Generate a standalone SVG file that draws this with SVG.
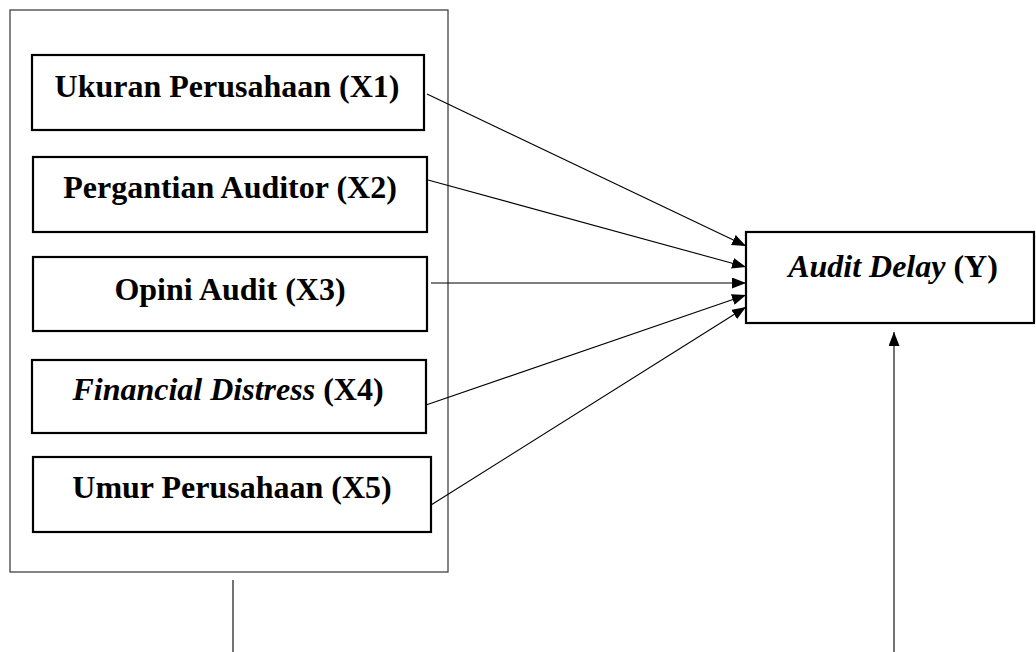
<svg xmlns="http://www.w3.org/2000/svg" width="1036" height="652" viewBox="0 0 1036 652">
<style>
.box{fill:#fff;stroke:#000;stroke-width:2.2}
.outer{fill:none;stroke:#333;stroke-width:1.2}
.lbl{font-family:"Liberation Serif","Times New Roman",serif;font-size:32px;font-weight:bold;text-anchor:middle;fill:#000}
.it{font-style:italic}
.conn{stroke:#000;stroke-width:1.1;fill:none}
</style>
<defs>
<marker id="ah" viewBox="0 0 14 11" refX="14" refY="5.5" markerWidth="14" markerHeight="11" markerUnits="userSpaceOnUse" orient="auto">
<path d="M0,0 L14,5.5 L0,11 Z" fill="#000"/>
</marker>
</defs>
<rect id="group" class="outer" x="10" y="10" width="438" height="562"/>
<g id="x1"><rect class="box" x="32" y="55" width="392" height="75"/><text class="lbl" x="227" y="97">Ukuran Perusahaan (X1)</text></g>
<g id="x2"><rect class="box" x="33" y="157" width="394" height="75"/><text class="lbl" x="230" y="198">Pergantian Auditor (X2)</text></g>
<g id="x3"><rect class="box" x="33" y="257" width="394" height="74"/><text class="lbl" x="230" y="300">Opini Audit (X3)</text></g>
<g id="x4"><rect class="box" x="32" y="360" width="394" height="73"/><text class="lbl" x="228" y="400"><tspan class="it">Financial Distress</tspan> (X4)</text></g>
<g id="x5"><rect class="box" x="33" y="457" width="398" height="75"/><text class="lbl" x="232" y="498">Umur Perusahaan (X5)</text></g>
<g id="y"><rect class="box" x="746" y="232" width="288" height="91"/><text class="lbl" x="893" y="277"><tspan class="it">Audit Delay</tspan> (Y)</text></g>
<g id="connectors">
<line class="conn" x1="427" y1="94" x2="746" y2="246" marker-end="url(#ah)"/>
<line class="conn" x1="428" y1="180" x2="746" y2="267" marker-end="url(#ah)"/>
<line class="conn" x1="431" y1="283" x2="746" y2="283" marker-end="url(#ah)"/>
<line class="conn" x1="426" y1="405" x2="746" y2="295" marker-end="url(#ah)"/>
<line class="conn" x1="431" y1="505" x2="746" y2="307" marker-end="url(#ah)"/>
<line class="conn" x1="233" y1="580" x2="233" y2="652"/>
<line class="conn" x1="894" y1="652" x2="894" y2="332" marker-end="url(#ah)"/>
</g>
</svg>
